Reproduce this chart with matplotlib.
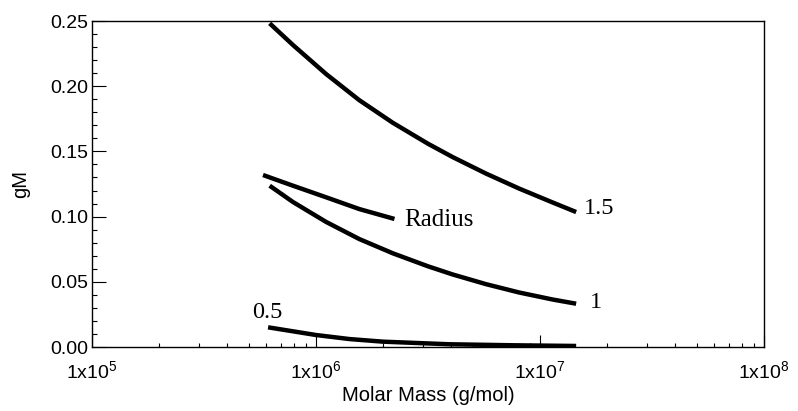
import numpy as np
import matplotlib.pyplot as plt
from matplotlib.ticker import FixedLocator, FixedFormatter, LogLocator, NullFormatter, MultipleLocator

plt.rcParams['font.family'] = ['Liberation Sans', 'DejaVu Sans']
plt.rcParams['mathtext.fontset'] = 'custom'
plt.rcParams['mathtext.rm'] = 'Liberation Sans'

# curves (molar mass g/mol, gM)
mass_15 = [6.21e5, 7.89e5, 1.11e6, 1.56e6, 2.20e6, 3.16e6, 4.08e6, 5.74e6, 8.07e6, 1.14e7, 1.45e7]
gm_15 = [0.2482, 0.2316, 0.2093, 0.1893, 0.1720, 0.1559, 0.1456, 0.1330, 0.1215, 0.1108, 0.1035]

mass_1 = [6.21e5, 7.89e5, 1.11e6, 1.56e6, 2.20e6, 3.16e6, 4.08e6, 5.74e6, 8.07e6, 1.14e7, 1.45e7]
gm_1 = [0.1237, 0.1112, 0.0959, 0.0828, 0.0719, 0.0619, 0.0556, 0.0482, 0.0418, 0.0364, 0.0332]

mass_radius = [5.80e5, 7.89e5, 1.11e6, 1.56e6, 2.24e6]
gm_radius = [0.1319, 0.1237, 0.1148, 0.1058, 0.0982]

mass_05 = [6.11e5, 1.00e6, 1.41e6, 1.99e6, 3.94e6, 7.81e6, 1.45e7]
gm_05 = [0.0151, 0.0092, 0.0061, 0.0041, 0.0021, 0.0013, 0.0008]

xtick_vals = [1e5, 1e6, 1e7, 1e8]
xtick_labels = ['1x10$^{5}$', '1x10$^{6}$', '1x10$^{7}$', '1x10$^{8}$']

fig = plt.figure(figsize=(7.98, 4.11), dpi=100)
ax = fig.add_axes([0.1153, 0.1557, 0.8421, 0.7932])

for m, g in [(mass_15, gm_15), (mass_1, gm_1), (mass_radius, gm_radius), (mass_05, gm_05)]:
    ax.plot(m, g, color='black', linewidth=3.2, solid_capstyle='butt')

ax.set_xscale('log')
ax.set_xlim(1e5, 1e8)
ax.set_ylim(0, 0.25)

ax.xaxis.set_major_locator(FixedLocator(xtick_vals))
ax.xaxis.set_major_formatter(FixedFormatter(xtick_labels))
ax.xaxis.set_minor_locator(LogLocator(base=10, subs=np.arange(2, 10)))
ax.xaxis.set_minor_formatter(NullFormatter())
ax.yaxis.set_major_locator(MultipleLocator(0.05))
ax.yaxis.set_minor_locator(MultipleLocator(0.01))
ax.yaxis.set_major_formatter(plt.FuncFormatter(lambda v, p: f'{v:.2f}'))

ax.tick_params(axis='both', which='both', direction='in', top=False, right=False, labelsize=14)
ax.tick_params(axis='x', which='major', length=9, width=0.8, pad=10)
ax.tick_params(axis='x', which='minor', length=3, width=0.8)
ax.tick_params(axis='y', which='major', length=10, width=0.8, pad=3)
ax.tick_params(axis='y', which='minor', length=3.5, width=0.8)
for s in ax.spines.values():
    s.set_linewidth(1.0)

ax.set_xlabel('Molar Mass (g/mol)', fontsize=14.5, labelpad=2)
ax.set_ylabel('gM', fontsize=14.5, labelpad=14)

serif = ['Liberation Serif', 'DejaVu Serif']
ax.text(1.57e7, 0.106, '1.5', family=serif, fontsize=17.5, va='center', ha='left')
ax.text(1.67e7, 0.034, '1', family=serif, fontsize=17.5, va='center', ha='left')
ax.text(2.48e6, 0.0974, 'Radius', family=serif, fontsize=18, va='center', ha='left')
ax.text(5.16e5, 0.0268, '0.5', family=serif, fontsize=17.5, va='center', ha='left')

fig.savefig('out.png', dpi=100)
